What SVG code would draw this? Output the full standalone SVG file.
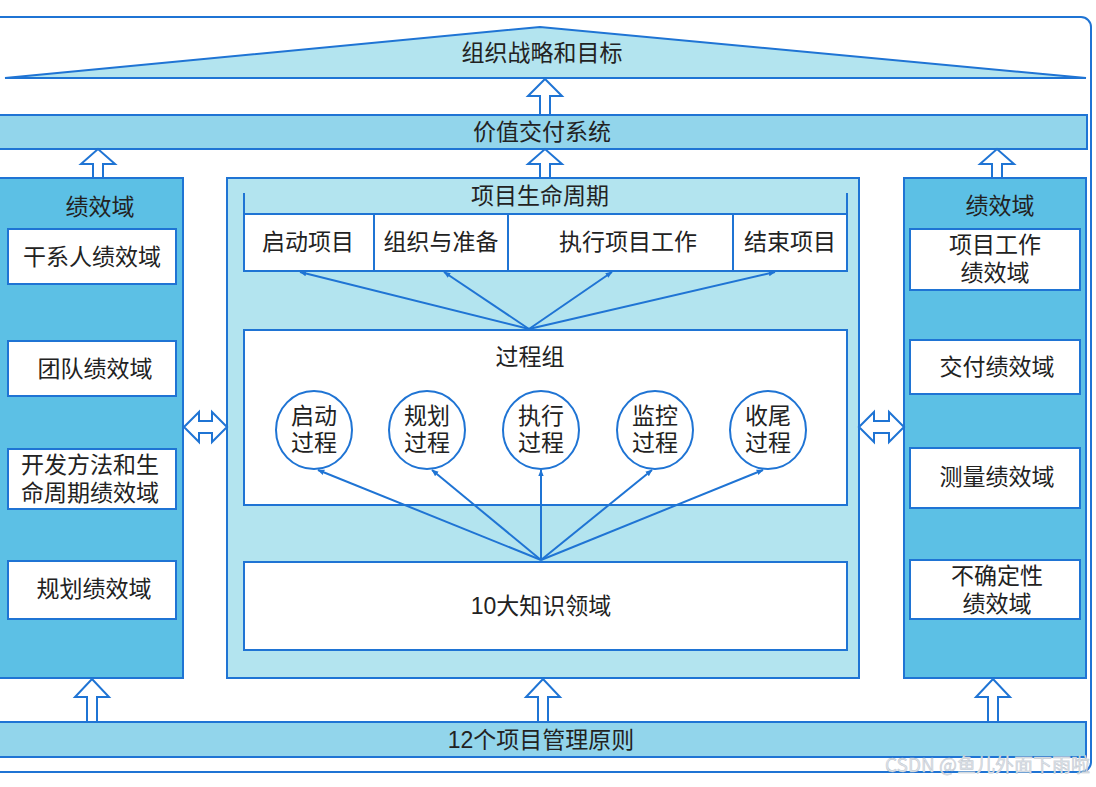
<svg xmlns="http://www.w3.org/2000/svg" width="1096" height="787" viewBox="0 0 1096 787">
<defs>
<marker id="ah" viewBox="0 0 10 10" refX="9" refY="5" markerWidth="7" markerHeight="7" orient="auto-start-reverse" markerUnits="userSpaceOnUse">
<path d="M0,1 L10,5 L0,9 z" fill="#1f74d4"/>
</marker>
<style>
.t{font-family:"Liberation Sans","Noto Sans CJK SC",sans-serif;font-size:23px;fill:#222;text-anchor:middle;dominant-baseline:central}
.ln{stroke:#1f74d4;stroke-width:2;fill:none}
.box{fill:#fff;stroke:#1f74d4;stroke-width:2}
.dark{fill:#5cc0e5;stroke:#1f74d4;stroke-width:2}
.light{fill:#b3e4ef;stroke:#1f74d4;stroke-width:2}
.bar{fill:#92d5eb;stroke:#1f74d4;stroke-width:2}
.arr{fill:#fff;stroke:#1f74d4;stroke-width:2;stroke-linejoin:miter}
.con{stroke:#1f74d4;stroke-width:2;fill:none;marker-end:url(#ah)}
</style>
</defs>
<rect x="0" y="0" width="1096" height="787" fill="#fff"/>
<rect id="frame" x="-20" y="17" width="1111" height="755" rx="10" fill="none" stroke="#1f74d4" stroke-width="2"/>

<g id="goal">
<polygon points="540,27 5,78 1086,78" class="light"/>
<text class="t" x="542" y="53">组织战略和目标</text>
</g>

<g id="value">
<rect x="-2" y="115" width="1089" height="34" class="bar"/>
<text class="t" x="542" y="132">价值交付系统</text>
</g>

<g id="left-panel">
<rect x="-2" y="178" width="185" height="500" class="dark"/>
<text class="t" x="100" y="207">绩效域</text>
<rect x="8" y="229" width="168" height="55" class="box"/>
<text class="t" x="92" y="257">干系人绩效域</text>
<rect x="8" y="341" width="168" height="55" class="box"/>
<text class="t" x="95" y="369">团队绩效域</text>
<rect x="8" y="449" width="168" height="60" class="box"/>
<text class="t"><tspan x="90" y="465">开发方法和生</tspan><tspan x="90" y="493">命周期绩效域</tspan></text>
<rect x="8" y="561" width="168" height="58" class="box"/>
<text class="t" x="94" y="589">规划绩效域</text>
</g>

<g id="center-panel">
<rect x="227" y="178" width="632" height="500" class="light"/>
<text class="t" x="540" y="196">项目生命周期</text>
<path d="M244,193 V214 M847,193 V214" class="ln"/>
</g>

<g id="lifecycle">
<rect x="244" y="214" width="603" height="57" class="box"/>
<path d="M374,214 V271 M508,214 V271 M733,214 V271" class="ln"/>
<text class="t" x="308" y="242">启动项目</text>
<text class="t" x="441" y="242">组织与准备</text>
<text class="t" x="628" y="242">执行项目工作</text>
<text class="t" x="790" y="242">结束项目</text>
</g>

<g id="process-group">
<rect x="244" y="330" width="603" height="175" class="box"/>
<text class="t" x="530" y="357">过程组</text>
<ellipse cx="314" cy="430" rx="38" ry="39" class="box"/>
<text class="t"><tspan x="314" y="416">启动</tspan><tspan x="314" y="443">过程</tspan></text>
<ellipse cx="427" cy="430" rx="38" ry="39" class="box"/>
<text class="t"><tspan x="427" y="416">规划</tspan><tspan x="427" y="443">过程</tspan></text>
<ellipse cx="541" cy="430" rx="38" ry="39" class="box"/>
<text class="t"><tspan x="541" y="416">执行</tspan><tspan x="541" y="443">过程</tspan></text>
<ellipse cx="655" cy="430" rx="38" ry="39" class="box"/>
<text class="t"><tspan x="655" y="416">监控</tspan><tspan x="655" y="443">过程</tspan></text>
<ellipse cx="768" cy="430" rx="38" ry="39" class="box"/>
<text class="t"><tspan x="768" y="416">收尾</tspan><tspan x="768" y="443">过程</tspan></text>
</g>

<g id="knowledge">
<rect x="244" y="562" width="603" height="88" class="box"/>
<text class="t" x="541" y="606">10大知识领域</text>
</g>

<g id="right-panel">
<rect x="904" y="178" width="182" height="500" class="dark"/>
<text class="t" x="1000" y="206">绩效域</text>
<rect x="910" y="229" width="170" height="61" class="box"/>
<text class="t"><tspan x="995" y="245">项目工作</tspan><tspan x="995" y="273">绩效域</tspan></text>
<rect x="910" y="340" width="170" height="54" class="box"/>
<text class="t" x="997" y="367">交付绩效域</text>
<rect x="910" y="448" width="170" height="60" class="box"/>
<text class="t" x="997" y="477">测量绩效域</text>
<rect x="910" y="560" width="170" height="59" class="box"/>
<text class="t"><tspan x="997" y="576">不确定性</tspan><tspan x="997" y="604">绩效域</tspan></text>
</g>

<g id="principles">
<rect x="-2" y="722" width="1088" height="35" class="bar"/>
<text class="t" x="541" y="740">12个项目管理原则</text>
</g>

<g id="connectors">
<polygon class="arr" points="540,115 540,96 528,96 545,79 562,96 550,96 550,115"/>
<polygon class="arr" points="93,178 93,164 81,164 98,149 115,164 103,164 103,178"/>
<polygon class="arr" points="540,178 540,164 528,164 545,149 562,164 550,164 550,178"/>
<polygon class="arr" points="992,178 992,164 980,164 997,149 1014,164 1002,164 1002,178"/>
<polygon class="arr" points="87,722 87,697 75,697 92,679 109,697 97,697 97,722"/>
<polygon class="arr" points="538,722 538,697 526,697 543,679 560,697 548,697 548,722"/>
<polygon class="arr" points="988,722 988,697 976,697 993,679 1010,697 998,697 998,722"/>
<polygon class="arr" points="184,427 199,412 199,421 212,421 212,412 227,427 212,442 212,433 199,433 199,442"/>
<polygon class="arr" points="859,427 874,412 874,421 889,421 889,412 904,427 889,442 889,433 874,433 874,442"/>
<line class="con" x1="529" y1="329" x2="300" y2="272"/>
<line class="con" x1="529" y1="329" x2="444" y2="272"/>
<line class="con" x1="529" y1="329" x2="612" y2="272"/>
<line class="con" x1="529" y1="329" x2="775" y2="272"/>
<line class="con" x1="541" y1="560" x2="318" y2="470"/>
<line class="con" x1="541" y1="560" x2="432" y2="470"/>
<line class="con" x1="541" y1="560" x2="541" y2="470"/>
<line class="con" x1="541" y1="560" x2="652" y2="470"/>
<line class="con" x1="541" y1="560" x2="763" y2="470"/>
</g>

<text x="1090" y="772" font-family="'Noto Sans CJK SC','Liberation Sans',sans-serif" font-size="19" fill="#dde3ea" stroke="#b8c0c8" stroke-width="0.4" text-anchor="end">CSDN @鱼儿外面下雨啦</text>
</svg>
